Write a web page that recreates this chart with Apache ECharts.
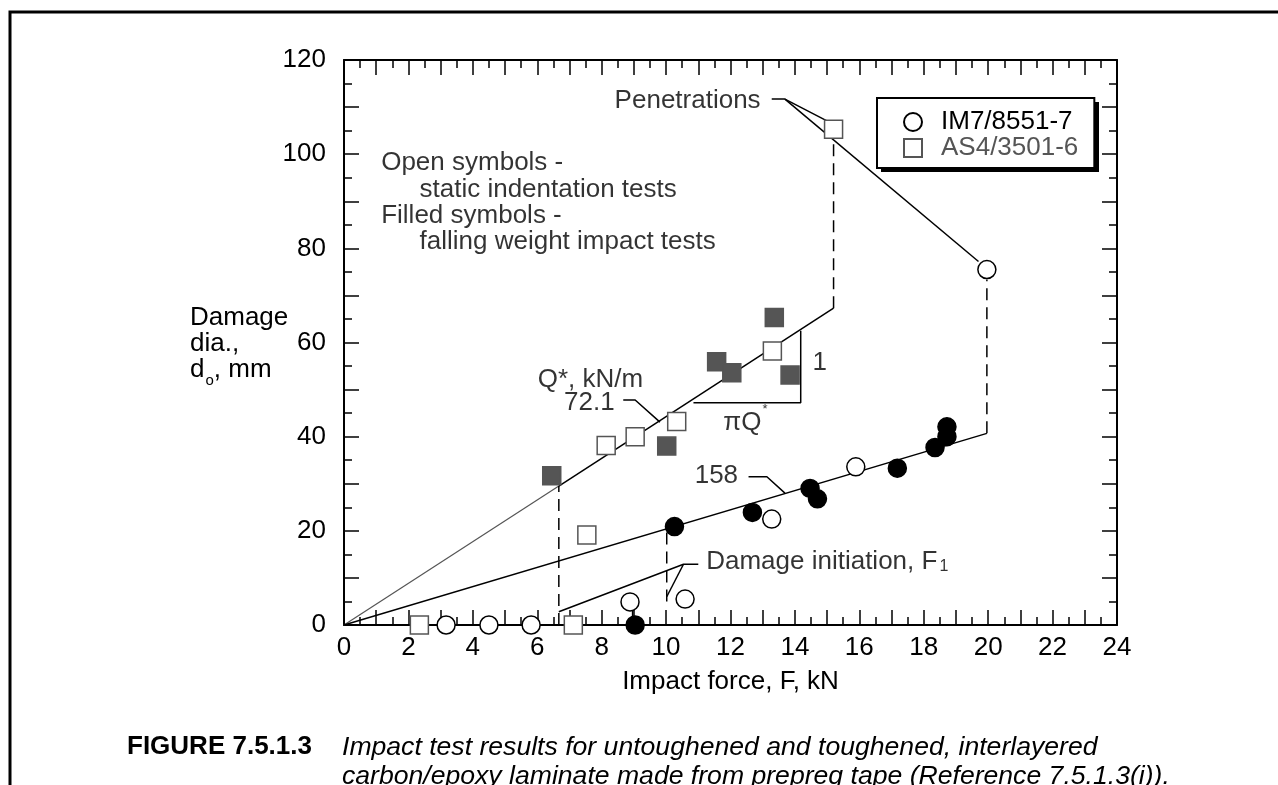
<!DOCTYPE html>
<html><head><meta charset="utf-8">
<script src="https://cdn.jsdelivr.net/npm/echarts@6/dist/echarts.min.js"></script>
<style>html,body{margin:0;padding:0;background:#fff}#c{width:1278px;height:785px}</style>
</head><body><div id="c"></div>
<script>
const FONT = '"Liberation Sans", Arial, Helvetica, sans-serif';

// tick labels
const xTickLabels = [0, 2, 4, 6, 8, 10, 12, 14, 16, 18, 20, 22, 24];
const yTickLabels = [0, 20, 40, 60, 80, 100, 120];

// data (Impact force kN, damage dia. mm)
const im7Open   = [[3.17,0],[4.5,0],[5.81,0],[8.88,4.9],[10.59,5.5],[13.28,22.5],[15.89,33.6],[19.96,75.5]];
const im7Filled = [[9.04,0],[10.26,20.9],[12.68,23.9],[14.47,29.0],[14.7,26.8],[17.18,33.3],[18.35,37.7],[18.72,40.0],[18.72,42.1]];
const as4Open   = [[2.34,0],[7.12,0],[7.54,19.1],[8.14,38.1],[9.04,40.0],[10.33,43.2],[13.3,58.2],[15.2,105.3]];
const as4Filled = [[6.45,31.7],[10.02,38.0],[11.57,55.9],[12.04,53.6],[13.85,53.1],[13.36,65.3]];

// fit lines
const fitAS4Start = [[0,0],[6.67,29.5]];
const fitAS4      = [[6.67,29.5],[15.2,67.3]];
const fitIM7      = [[0,0],[19.96,40.7]];

// dashed verticals
const dashF1AS4   = [[6.67,0],[6.67,29.5]];
const dashF1IM7   = [[10.02,5],[10.02,20.4]];
const dashPenAS4  = [[15.2,67.3],[15.2,103.2]];
const dashPenIM7  = [[19.96,40.7],[19.96,73.4]];

// leader lines / slope triangle
const leadPen1   = [[13.28,111.7],[13.69,111.7],[15.04,106.9]];
const leadPen2   = [[13.69,111.7],[19.70,77.2]];
const lead158    = [[12.56,31.5],[13.13,31.5],[13.69,28.0]];
const lead721    = [[8.67,47.8],[9.04,47.8],[9.81,43.1]];
const leadDam1   = [[11.0,12.9],[10.54,12.9],[6.67,2.8]];
const leadDam2   = [[10.54,12.9],[10.02,6.0]];
const slopeTri   = [[10.85,47.2],[14.18,47.2],[14.18,62.5]];
const stubIM7    = [[8.96,0.5],[8.96,4.0]];

// annotation texts and anchors (data units)
const annotText  = ['Penetrations','Open symbols -','static indentation tests','Filled symbols -','falling weight impact tests','Q*, kN/m','72.1','158','1','{t|\u03c0Q}{sup|*}','{t|Damage initiation, F}{sub|1}'];
const annotX     = [12.95, 1.17, 2.36, 1.17, 2.36, 6.03, 8.42, 12.25, 14.56, 12.48, 11.26];
const annotY     = [111.2, 98.1, 92.4, 86.9, 81.3, 52.0, 47.1, 31.5, 55.6, 42.8, 13.3];
const annotAlign = ['right','left','left','left','left','left','right','right','left','center','left'];

const chart = echarts.init(document.getElementById('c'), null, {renderer:'canvas'});

const rich = {
  t:{fontSize:26, fontFamily:FONT, color:'#000', lineHeight:26, verticalAlign:'bottom'},
  sup:{fontSize:13, fontFamily:FONT, color:'#000', lineHeight:13, padding:[0,0,20,1], verticalAlign:'bottom'},
  sub:{fontSize:16, fontFamily:FONT, color:'#000', lineHeight:16, padding:[0,0,0,2], verticalAlign:'bottom'}
};

function xAx(pos, labels){
  return {type:'value', gridIndex:0, position:pos, min:0, max:24, interval:1,
    axisLine:{show:true, onZero:false, lineStyle:{color:'#000', width:2}},
    axisTick:{show:true, inside:true, length:15, lineStyle:{color:'#000', width:1.5}},
    minorTick:{show:true, splitNumber:2, length:8, lineStyle:{color:'#000', width:1.5}},
    splitLine:{show:false}, minorSplitLine:{show:false},
    axisLabel:{show:labels, margin:10, fontSize:26, fontFamily:FONT, color:'#000',
      formatter:v => xTickLabels.includes(v) ? String(v) : ''}
  };
}
function yAx(pos, labels){
  return {type:'value', gridIndex:0, position:pos, min:0, max:120, interval:10,
    axisLine:{show:true, onZero:false, lineStyle:{color:'#000', width:2}},
    axisTick:{show:true, inside:true, length:15, lineStyle:{color:'#000', width:1.5}},
    minorTick:{show:true, splitNumber:2, length:8, lineStyle:{color:'#000', width:1.5}},
    splitLine:{show:false}, minorSplitLine:{show:false},
    axisLabel:{show:labels, margin:18, fontSize:26, fontFamily:FONT, color:'#000',
      formatter:v => yTickLabels.includes(v) ? String(v) : ''}
  };
}

function lineS(data, color, width, dashed, z){
  return {type:'line', data:data, xAxisIndex:0, yAxisIndex:0, symbol:'none', showSymbol:false,
    silent:true, animation:false, z:z||2, legendHoverLink:false,
    lineStyle:{color:color, width:width, type: dashed ? [12,7] : 'solid'},
    emphasis:{disabled:true}};
}
function scatS(name, data, symbol, fill, stroke){
  return {type:'scatter', name:name, data:data, xAxisIndex:0, yAxisIndex:0, symbol:symbol, symbolSize:18,
    silent:true, animation:false, z:4,
    itemStyle:{color:fill, borderColor:stroke, borderWidth:1.5, opacity:1},
    emphasis:{disabled:true}};
}

const annotData = annotText.map((t,i)=>({
  value:[annotX[i], annotY[i]],
  label:{show:true, formatter:t, position:[0,0], align:annotAlign[i], verticalAlign:'middle',
    fontSize:26, fontFamily:FONT, color:'#000', rich:rich}
}));

const option = {
  backgroundColor:'#fff',
  animation:false,
  grid:{left:344, top:60, width:773, height:565, containLabel:false},
  xAxis:[xAx('bottom', true), xAx('top', false)],
  yAxis:[yAx('left', true), yAx('right', false)],
  legend:{
    data:[{name:'IM7/8551-7', textStyle:{color:'#000'}},{name:'AS4/3501-6', textStyle:{color:'#555'}}],
    orient:'vertical', left:877, top:98, itemWidth:18, itemHeight:18, itemGap:0,
    padding:[11,16,7,26], backgroundColor:'#fff', borderColor:'#000', borderWidth:2, borderRadius:0,
    selectedMode:false, z:5,
    textStyle:{fontSize:26, fontFamily:FONT, lineHeight:26, padding:[0,0,0,14]}
  },
  series:[
    lineS(fitAS4Start, '#555', 1.2, false),
    lineS(fitAS4, '#000', 1.5, false),
    lineS(fitIM7, '#000', 1.5, false),
    lineS(dashF1AS4, '#000', 1.5, true),
    lineS(dashF1IM7, '#000', 1.5, true),
    lineS(dashPenAS4, '#000', 1.5, true),
    lineS(dashPenIM7, '#000', 1.5, true),
    lineS(leadPen1, '#000', 1.5, false),
    lineS(leadPen2, '#000', 1.5, false),
    lineS(lead158, '#000', 1.5, false),
    lineS(lead721, '#000', 1.5, false),
    lineS(leadDam1, '#000', 1.5, false),
    lineS(leadDam2, '#000', 1.5, false),
    lineS(slopeTri, '#000', 1.5, false),
    lineS(stubIM7, '#000', 1.5, false),
    scatS('IM7/8551-7', im7Open, 'circle', '#fff', '#000'),
    scatS('IM7 impact', im7Filled, 'circle', '#000', '#000'),
    scatS('AS4/3501-6', as4Open, 'rect', '#fff', '#555'),
    scatS('AS4 impact', as4Filled, 'rect', '#555', '#555'),
    {type:'scatter', name:'annotations', data:annotData, symbol:'circle', symbolSize:1,
      itemStyle:{color:'rgba(0,0,0,0)'}, silent:true, animation:false, z:6, emphasis:{disabled:true}}
  ],
  graphic:[
    {type:'polyline', shape:{points:[[10,785],[10,12],[1278,12]]}, style:{stroke:'#000', lineWidth:3, fill:null}, silent:true},
    {type:'rect', shape:{x:881, y:102, width:218, height:70}, style:{fill:'#000'}, silent:true, z:1},
    {type:'text', left:190, top:305, silent:true, style:{
      text:'{t|Damage}\n{t|dia.,}\n{t|d}{s|o}{t|, mm}',
      rich:{t:{fontSize:26, fontFamily:FONT, color:'#000', lineHeight:26, verticalAlign:'top'},
            s:{fontSize:15, fontFamily:FONT, color:'#000', lineHeight:15, padding:[16,0,0,1], verticalAlign:'top'}}}},
    {type:'text', x:730.5, y:669, silent:true, style:{text:'Impact force, F, kN', font:'26px '+FONT, fill:'#000', align:'center', verticalAlign:'top'}},
    {type:'text', left:127, top:734, silent:true, style:{text:'FIGURE 7.5.1.3', font:'bold 26px '+FONT, fill:'#000'}},
    {type:'text', left:342, top:734, silent:true, style:{text:'Impact test results for untoughened and toughened, interlayered', font:'italic 26.6px '+FONT, fill:'#000'}},
    {type:'text', left:342, top:763, silent:true, style:{text:'carbon/epoxy laminate made from prepreg tape (Reference 7.5.1.3(i)).', font:'italic 26.6px '+FONT, fill:'#000'}}
  ]
};
chart.setOption(option);
</script>
</body></html>
